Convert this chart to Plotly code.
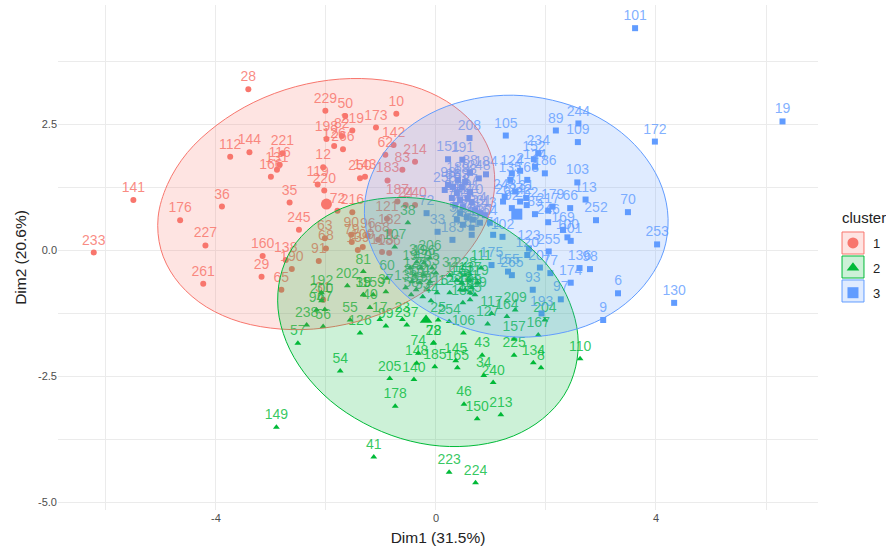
import plotly.graph_objects as go

colors = {'1': '#F8766D', '2': '#00BA38', '3': '#619CFF'}
label_colors = {'1': 'rgba(248,118,109,0.85)', '2': 'rgba(0,186,56,0.8)', '3': 'rgba(97,156,255,0.8)'}
fills = {'1': 'rgba(248,118,109,0.2)', '2': 'rgba(0,186,56,0.2)', '3': 'rgba(97,156,255,0.2)'}
symbols = {'1': 'circle', '2': 'triangle-up', '3': 'square'}

# cluster 1
labels_1 = ['233', '141', '28', '176', '36', '227', '261', '112', '144', '221', '116', '131', '166', '35', '245',
            '160', '29', '138', '190', '65', '91', '229', '198', '126', '266', '12', '119', '220', '72', '216',
            '63', '68', '90', '79', '50', '82', '219', '173', '10', '142', '62', '214', '83', '183', '143', '250',
            '187', '24', '240', '121', '132', '96', '168', '109', '103', '186', '139', '31']
x_1 = [-6.22, -5.50, -3.41, -4.65, -3.89, -4.19, -4.23, -3.74, -3.39, -2.79, -2.84, -2.89, -3.00, -2.66, -2.49,
       -3.15, -3.17, -2.73, -2.62, -2.81, -2.13, -2.01, -1.99, -1.85, -1.69, -2.05, -2.15, -2.03, -1.79, -1.52,
       -2.02, -2.00, -1.54, -1.53, -1.65, -1.71, -1.52, -1.09, -0.72, -0.77, -0.92, -0.38, -0.61, -0.88, -1.29, -1.38,
       -0.70, -0.55, -0.38, -0.89, -0.84, -1.24, -1.05, -1.33, -0.98, -0.85, -1.42, -2.05]
y_1 = [-0.04, 1.00, 3.20, 0.60, 0.87, 0.10, -0.66, 1.86, 1.95, 1.93, 1.70, 1.60, 1.46, 0.95, 0.41,
       -0.11, -0.52, -0.19, -0.37, -0.78, -0.21, 2.77, 2.21, 2.07, 2.01, 1.65, 1.31, 1.19, 0.79, 0.76,
       0.24, 0.04, 0.31, 0.17, 2.67, 2.27, 2.38, 2.44, 2.71, 2.09, 1.90, 1.76, 1.60, 1.39, 1.46, 1.43,
       0.97, 0.90, 0.90, 0.63, 0.37, 0.29, 0.21, 0.07, -0.03, -0.05, 0.01, -0.98]

# cluster 2
labels_2 = ['149', '41', '223', '224', '178', '46', '150', '213', '54', '205', '140', '185', '148', '165', '145',
            '43', '34', '240', '225', '134', '8', '110', '78', '74', '57', '238', '56', '94', '192', '200', '67',
            '202', '39', '55', '126', '15', '159', '37', '40', '99', '17', '23', '237', '60', '81', '111', '254',
            '25', '106', '127', '164', '117', '209', '157', '167', '204', '22', '206', '30', '196', '19', '47',
            '95', '125', '76', '3', '85', '151', '42', '133', '18', '92', '115', '53', '58', '128', '44', '32',
            '228', '114', '161', '137', '119', '13', '11', '122', '108', '129', '135', '38', '107', '130']
x_2 = [-2.90, -1.13, 0.24, 0.72, -0.74, 0.51, 0.75, 1.18, -1.74, -0.84, -0.40, -0.02, -0.35, 0.39, 0.36,
       0.84, 0.87, 1.04, 1.42, 1.77, 1.91, 2.62, -0.04, -0.32, -2.51, -2.35, -2.05, -2.17, -2.08, -2.08, -2.02,
       -1.61, -1.32, -1.56, -1.38, -1.32, -1.14, -0.91, -1.20, -0.91, -1.02, -0.61, -0.53, -0.89, -1.32, 0.82, 0.24,
       0.04, 0.50, 0.94, 1.29, 1.01, 1.44, 1.42, 1.86, 1.98, -0.05, -0.11, -0.35, -0.22, -0.47, -0.27,
       -0.07, -0.38, -0.22, 0.00, -0.44, -0.29, -0.11, -0.55, -0.36, -0.15, 0.02, -0.24, -0.45, 0.25, -0.09, 0.25,
       0.53, 0.38, 0.47, 0.62, 0.76, 0.53, 0.65, 0.44, 0.62, 0.71, 0.62, -0.51, -0.75, 0.49]
y_2 = [-3.51, -4.10, -4.40, -4.61, -3.09, -3.05, -3.34, -3.26, -2.39, -2.54, -2.56, -2.31, -2.24, -2.33, -2.19,
       -2.08, -2.48, -2.62, -2.08, -2.23, -2.33, -2.15, -1.83, -2.04, -1.84, -1.48, -1.51, -1.18, -0.84, -1.00, -1.17,
       -0.70, -0.88, -1.38, -1.64, -0.88, -0.88, -0.82, -1.13, -1.50, -1.37, -1.37, -1.48, -0.55, -0.42, -0.35, -1.41,
       -1.38, -1.64, -1.46, -1.31, -1.25, -1.18, -1.76, -1.68, -1.38, -1.84, -0.15, -0.23, -0.25, -0.35, -0.35,
       -0.35, -0.49, -0.49, -0.45, -0.62, -0.64, -0.62, -0.74, -0.78, -0.78, -0.84, -0.92, -0.88, -0.84, -1.00, -0.49,
       -0.49, -0.59, -0.64, -0.59, -0.64, -0.78, -0.74, -0.78, -0.84, -0.88, -0.98, 0.55, 0.07, -1.04]

# cluster 3
labels_3 = ['101', '19', '172', '244', '89', '109', '234', '152', '186', '103', '113', '70', '252', '253', '130',
            '6', '9', '179', '66', '217', '85', '246', '169', '201', '100', '123', '255', '120', '207', '77',
            '136', '98', '174', '97', '93', '175', '155', '265', '193', '208', '105', '151', '191', '184', '248',
            '88', '124', '2', '124', '135', '163', '243', '21', '31', '242', '92', '262', '26', '258', '98', '86',
            '189', '171', '83', '188', '87', '181', '182', '75', '84', '73', '170', '154', '49', '51', '52', '45',
            '231', '143', '230', '235', '69', '64', '71', '33', '72', '183', '102', '61']
x_3 = [3.62, 6.30, 3.98, 2.59, 2.18, 2.58, 1.86, 1.78, 1.98, 2.57, 2.72, 3.49, 2.91, 4.02, 4.33,
       3.31, 3.04, 2.12, 2.44, 2.04, 1.80, 2.04, 2.31, 2.45, 2.39, 1.69, 2.05, 1.66, 1.89, 2.08,
       2.61, 2.80, 2.45, 2.27, 1.76, 1.01, 1.31, 1.38, 1.92, 0.61, 1.27, 0.22, 0.48, 0.91, 0.78,
       0.62, 1.38, 1.53, 1.80, 1.35, 1.66, 1.25, 1.44, 1.64, 1.53, 1.38, 1.65, 1.22, 0.16, 0.22, 0.31,
       0.40, 0.38, 0.47, 0.53, 0.62, 0.58, 0.44, 0.35, 0.29, 0.49, 0.65, 0.71, 0.44, 0.56, 0.38, 0.67,
       0.80, 0.89, 0.80, 0.49, 0.65, 0.98, 1.04, 0.03, -0.17, 0.30, 1.21, 0.65]
y_3 = [4.41, 2.56, 2.16, 2.52, 2.38, 2.15, 1.93, 1.81, 1.53, 1.35, 1.01, 0.76, 0.60, 0.12, -1.04,
       -0.85, -1.38, 0.87, 0.84, 0.79, 0.72, 0.56, 0.41, 0.19, 0.26, 0.04, -0.02, -0.09, -0.34, -0.45,
       -0.35, -0.37, -0.64, -0.97, -0.78, -0.29, -0.42, -0.49, -1.25, 2.23, 2.28, 1.81, 1.80, 1.51, 1.43,
       1.54, 1.53, 1.58, 1.66, 1.40, 1.40, 1.07, 1.17, 1.04, 0.97, 0.84, 0.90, 0.97, 1.20, 1.30, 1.26,
       1.40, 1.14, 1.26, 1.36, 1.16, 1.04, 1.00, 0.90, 1.04, 0.86, 0.96, 0.80, 0.74, 0.66, 0.61, 0.61,
       0.74, 0.70, 0.55, 0.51, 0.45, 0.55, 0.31, 0.37, 0.74, 0.21, 0.27, 0.31]

# centroids
center_x = [-1.99, -0.18, 1.47]
center_y = [0.92, -1.38, 0.72]

# ellipse outlines
ell_x_1 = [1.06, 1.02, 0.77, 0.33, -0.26, -0.97, -1.75, -2.55, -3.31, -3.98, -4.52, -4.88,
           -5.05, -5.00, -4.75, -4.31, -3.72, -3.01, -2.23, -1.43, -0.67, 0.00, 0.54, 0.90, 1.06]
ell_y_1 = [1.18, 1.82, 2.39, 2.86, 3.20, 3.38, 3.40, 3.25, 2.94, 2.49, 1.94, 1.31,
           0.66, 0.02, -0.54, -1.02, -1.36, -1.54, -1.56, -1.41, -1.10, -0.65, -0.09, 0.53, 1.18]
ell_x_2 = [2.58, 2.43, 2.11, 1.63, 1.03, 0.35, -0.36, -1.06, -1.70, -2.23, -2.62, -2.83,
           -2.87, -2.72, -2.40, -1.92, -1.32, -0.64, 0.07, 0.77, 1.41, 1.94, 2.33, 2.54, 2.58]
ell_y_2 = [-1.68, -1.03, -0.41, 0.14, 0.58, 0.89, 1.04, 1.02, 0.84, 0.50, 0.03, -0.53,
           -1.16, -1.81, -2.42, -2.98, -3.42, -3.73, -3.88, -3.86, -3.68, -3.34, -2.87, -2.31, -1.68]
ell_x_3 = [4.22, 4.11, 3.82, 3.37, 2.79, 2.12, 1.41, 0.70, 0.04, -0.52, -0.95, -1.22,
           -1.30, -1.19, -0.90, -0.45, 0.13, 0.80, 1.51, 2.22, 2.88, 3.44, 3.87, 4.14, 4.22]
ell_y_3 = [0.63, 1.25, 1.83, 2.34, 2.73, 2.98, 3.08, 3.01, 2.79, 2.42, 1.93, 1.35,
           0.73, 0.11, -0.47, -0.98, -1.36, -1.62, -1.72, -1.65, -1.43, -1.06, -0.57, -0.01, 0.63]

clusters = [('1', labels_1, x_1, y_1, ell_x_1, ell_y_1),
            ('2', labels_2, x_2, y_2, ell_x_2, ell_y_2),
            ('3', labels_3, x_3, y_3, ell_x_3, ell_y_3)]

fig = go.Figure()

# points and labels go under the ellipses, like in the original
for i, (name, labels, xs, ys, ex, ey) in enumerate(clusters):
    fig.add_trace(go.Scatter(x=xs, y=ys, mode='markers', showlegend=False,
                             marker=dict(color=colors[name], symbol=symbols[name], size=6)))
    # invisible marker only lifts the label a bit off the point
    fig.add_trace(go.Scatter(x=xs, y=ys, mode='markers+text', text=labels, textposition='top center', showlegend=False,
                             marker=dict(size=5.5, color='rgba(0,0,0,0)'),
                             textfont=dict(color=label_colors[name], size=14, family='Liberation Sans')))
    fig.add_trace(go.Scatter(x=[center_x[i]], y=[center_y[i]], mode='markers', name=name, legendgroup=name,
                             marker=dict(color=colors[name], symbol=symbols[name], size=11)))

for name, labels, xs, ys, ex, ey in clusters:
    fig.add_trace(go.Scatter(x=ex, y=ey, mode='lines', fill='toself', fillcolor=fills[name], showlegend=False,
                             line=dict(color=colors[name], width=1, shape='spline', smoothing=1)))

# legend key boxes
for i, name in enumerate(['1', '2', '3']):
    fig.add_shape(type='rect', xref='paper', yref='paper', layer='below',
                  x0=1.0316, x1=1.0605, y0=0.5069 - i * 0.0475, y1=0.5505 - i * 0.0475,
                  fillcolor=fills[name], line=dict(color=colors[name], width=1))

# legend title as a shape label, an annotation out here would push the margin
fig.add_shape(type='rect', xref='paper', yref='paper', layer='below',
              x0=1.0276, x1=1.0882, y0=0.5624, y1=0.598, line=dict(width=0), fillcolor='rgba(0,0,0,0)',
              label=dict(text='cluster', textposition='middle left', padding=0,
                         font=dict(size=15, color='#222222', family='Liberation Sans')))

grid = '#EBEBEB'
# 8px wider than the window: the legend needs the room or it squeezes the plot area
fig.update_layout(
    width=894, height=549,
    autosize=False,
    paper_bgcolor='white', plot_bgcolor='white',
    font=dict(family='Liberation Sans', color='#222222'),
    margin=dict(l=58, r=76, t=5, b=39),
    xaxis=dict(title=dict(text='Dim1 (31.5%)', font=dict(size=15.5), standoff=9),
               range=[-6.87, 6.945], tickvals=[-4, 0, 4], ticktext=['-4', '0', '4'],
               tickfont=dict(size=11, color='#4D4D4D'), zeroline=False,
               gridcolor=grid, gridwidth=1.3, ticklen=0,
               minor=dict(tickvals=[-6, -2, 2, 6], showgrid=True, gridcolor=grid, gridwidth=1)),
    yaxis=dict(title=dict(text='Dim2 (20.6%)', font=dict(size=15.5), standoff=7),
               range=[-5.15, 4.87], tickvals=[-5, -2.5, 0, 2.5], ticktext=['-5.0', '-2.5', '0.0', '2.5'],
               tickfont=dict(size=11, color='#4D4D4D'), zeroline=False,
               gridcolor=grid, gridwidth=1.3, ticklen=0,
               minor=dict(tickvals=[-3.75, -1.25, 1.25, 3.75], showgrid=True, gridcolor=grid, gridwidth=1)),
    legend=dict(x=1.0197, y=0.5585, xanchor='left', yanchor='top',
                font=dict(size=13), tracegroupgap=5, bgcolor='rgba(0,0,0,0)', itemwidth=30),
)

# drop the default body margin so the figure starts in the window corner
fig.write_html("out.html", config={'displayModeBar': False},
               post_script="document.body.style.margin='0';document.documentElement.style.overflow='hidden';")
